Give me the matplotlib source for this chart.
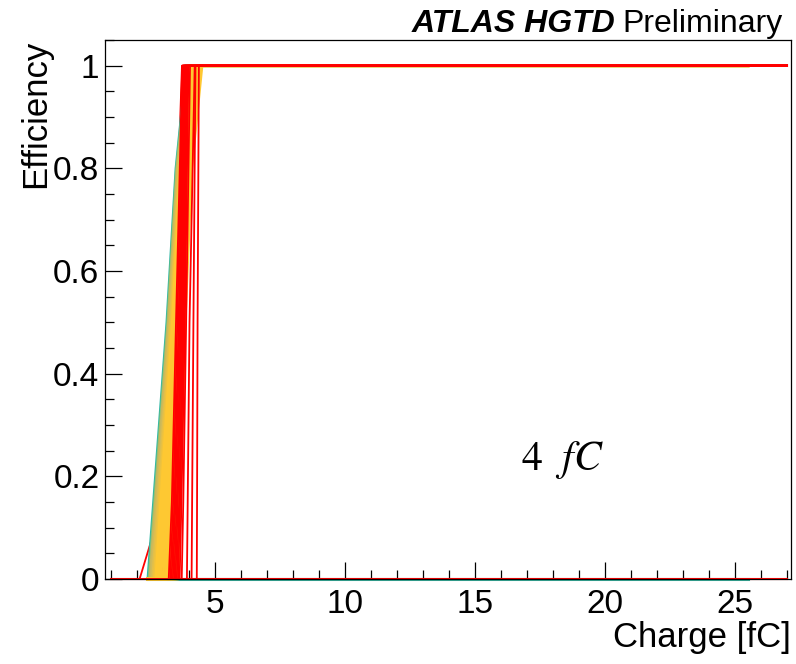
import numpy as np
import matplotlib
matplotlib.use("Agg")
import matplotlib.pyplot as plt

plt.rcParams['font.family'] = ['Liberation Sans', 'DejaVu Sans']
plt.rcParams['mathtext.fontset'] = 'stix'

# x range covered by each group of curves
red_xlo, red_xhi = 1.0, 27.0
bird_xlo, bird_xhi = 2.42, 25.5

# red curves hidden under the palette band (slow start): eff = 0, 0.15, 0.5, 1
redlo_x0   = [2.10, 2.85, 2.95, 3.05]
redlo_x15  = [3.00, 3.20, 3.28, 3.35]
redlo_x50  = [3.40, 3.47, 3.52, 3.58]
redlo_x100 = [3.73, 3.75, 3.78, 3.82]

# red turn-on curves drawn on top: eff = 0, 0.15, 0.5, 1
red_x0   = [3.22, 3.28, 3.33, 3.38, 3.43, 3.48, 3.53, 3.58, 3.64, 3.72, 3.92, 4.10, 4.30]
red_x15  = [3.34, 3.39, 3.44, 3.48, 3.53, 3.57, 3.62, 3.66, 3.71, 3.78, 3.95, 4.12, 4.31]
red_x50  = [3.50, 3.55, 3.60, 3.64, 3.68, 3.72, 3.76, 3.80, 3.84, 3.89, 4.02, 4.17, 4.33]
red_x100 = [3.74, 3.77, 3.80, 3.83, 3.86, 3.89, 3.92, 3.95, 3.98, 4.04, 4.22, 4.25, 4.38]

# palette curves (teal -> orange): charge where eff = 0, 0.5, 0.8, 1
bird_x0   = [2.42, 2.46, 2.50, 2.55, 2.60, 2.66, 2.72, 2.78, 2.85, 2.92, 3.00, 3.08, 3.16, 3.25, 3.34, 3.42, 3.50, 3.58]
bird_x50  = [3.15, 3.18, 3.21, 3.25, 3.28, 3.32, 3.36, 3.40, 3.44, 3.48, 3.52, 3.56, 3.60, 3.65, 3.70, 3.75, 3.80, 3.85]
bird_x80  = [3.50, 3.52, 3.55, 3.58, 3.61, 3.64, 3.67, 3.70, 3.74, 3.78, 3.82, 3.86, 3.90, 3.94, 3.98, 4.02, 4.06, 4.10]
bird_x100 = [3.90, 3.93, 3.96, 3.99, 4.02, 4.05, 4.08, 4.11, 4.15, 4.19, 4.23, 4.27, 4.31, 4.35, 4.39, 4.43, 4.47, 4.50]
bird_col  = ['#2eb7a4', '#87bf77', '#c9b85a', '#d1bb59', '#e2bf4a', '#f0c33c'] + ['#fec832'] * 12

y_ticks = [0, 0.2, 0.4, 0.6, 0.8, 1.0]
y_tick_labels = ["0", "0.2", "0.4", "0.6", "0.8", "1"]
x_ticks = [5, 10, 15, 20, 25]
x_tick_labels = ["5", "10", "15", "20", "25"]

fig = plt.figure(figsize=(7.96, 6.64), dpi=100)
ax = fig.add_axes([105/796, 1-579/664, (791-105)/796, (579-40)/664])

# dead channels (zero everywhere)
ax.plot([bird_xlo, bird_xhi], [0, 0], color='#2eb7a4', lw=2.2, clip_on=False)
ax.plot([red_xlo, red_xhi], [0, 0], color='red', lw=1.5, clip_on=False)

for a, b, c, d in zip(redlo_x0, redlo_x15, redlo_x50, redlo_x100):
    ax.plot([red_xlo, a, b, c, d, red_xhi], [0, 0, 0.15, 0.5, 1, 1], color='red', lw=1.3, clip_on=False)

for a, b, c, d, col in zip(bird_x0, bird_x50, bird_x80, bird_x100, bird_col):
    ax.plot([bird_xlo, a, b, c, d, bird_xhi], [0, 0, 0.5, 0.8, 1, 1], color=col, lw=2.0, clip_on=False)

for a, b, c, d in zip(red_x0, red_x15, red_x50, red_x100):
    ax.plot([red_xlo, a, b, c, d, red_xhi], [0, 0, 0.15, 0.5, 1, 1], color='red', lw=1.3, clip_on=False)

ax.set_xlim(0.77, 27.15)
ax.set_ylim(0, 1.05)
ax.set_xticks(x_ticks)
ax.set_xticklabels(x_tick_labels)
ax.set_xticks(np.arange(1, 28), minor=True)
ax.set_yticks(y_ticks)
ax.set_yticklabels(y_tick_labels)
ax.set_yticks(np.arange(0, 1.051, 0.05), minor=True)
ax.tick_params(which='both', direction='in', top=False, right=False, labelsize=24, width=0.9)
ax.tick_params(which='major', length=12)
ax.tick_params(which='minor', length=6.5)
ax.tick_params(axis='y', pad=4)
ax.tick_params(axis='x', pad=7)
for s in ax.spines.values():
    s.set_linewidth(0.9)

ax.set_xlabel("Charge [fC]", loc='right', fontsize=25, labelpad=1)
ax.set_ylabel("Efficiency", loc='top', fontsize=25, labelpad=1)

ax.text(0.667, 0.22, r"$4\ \ fC$", transform=ax.transAxes, fontsize=30, ha='center', va='center')

# header
t2 = fig.text(783/796, 1-32/664, "Preliminary", fontsize=23, ha='right', va='baseline')
fig.canvas.draw()
bb = t2.get_window_extent()
fig.text((bb.x0 - 7)/796, 1-32/664, "ATLAS HGTD", fontsize=23, fontweight='bold', style='italic', ha='right', va='baseline')

fig.savefig("out.png", dpi=100)
